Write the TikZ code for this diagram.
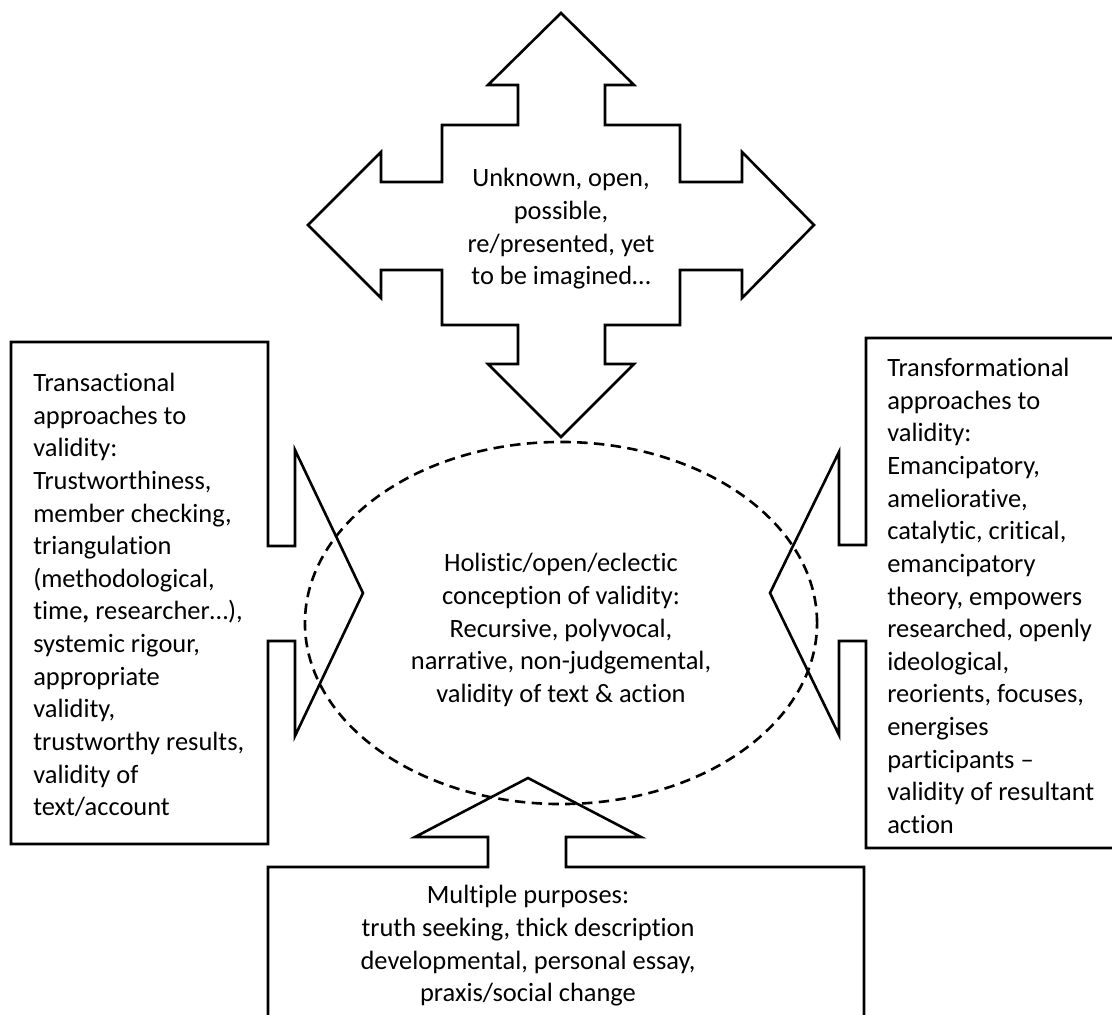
\documentclass[tikz,border=0pt]{standalone}
\usepackage{fontspec}
\setmainfont[Ligatures=NoCommon]{Carlito}
\usetikzlibrary{calc}
\tikzstyle{outline}=[line width=0.065cm, line join=miter]
\tikzstyle{boundary}=[dash pattern=on 0.26cm off 0.16cm, line width=0.065cm]
\tikzstyle{blurb}=[inner sep=0pt, font=\fontsize{18.8}{23.2}\selectfont]

\begin{document}
\begin{tikzpicture}[x=0.025cm,y=-0.025cm]
	\useasboundingbox (0,0) rectangle (1112,1014);
	\clip (0,0) rectangle (1112,1014);
	% four way arrow on top
	\draw[outline] (561,13) -- (634,85) -- (605,85) -- (605,125) -- (680,125) -- (680,182)
		-- (742,182) -- (742,152) -- (814,225) -- (742,298) -- (742,270) -- (680,270)
		-- (680,325) -- (605,325) -- (605,364) -- (634,364) -- (561,437) -- (488,364)
		-- (518,364) -- (518,325) -- (442,325) -- (442,270) -- (381,270) -- (381,298)
		-- (308,225) -- (381,152) -- (381,182) -- (442,182) -- (442,125) -- (518,125)
		-- (518,85) -- (488,85) -- cycle;
	\node[blurb, align=center] (unknown) at (561,229)
		{Unknown, open,\\possible,\\re/presented, yet\\to be imagined…};
	% left callout
	\draw[outline] (11,342) -- (268,342) -- (268,546) -- (295,546) -- (295,450) -- (363,593)
		-- (295,736) -- (295,641) -- (268,641) -- (268,844) -- (11,844) -- cycle;
	\node[blurb, align=left, anchor=west] (transactional) at (33,595)
		{Transactional\\approaches to\\validity:\\Trustworthiness,\\member checking,\\triangulation\\(methodological,\\time\textbf{,} researcher…),\\systemic rigour,\\appropriate\\validity,\\trustworthy results,\\validity of\\text/account};
	% right callout
	\draw[outline] (1130,338) -- (866,338) -- (866,545) -- (839,545) -- (839,452) -- (770,593)
		-- (839,735) -- (839,641) -- (866,641) -- (866,848) -- (1130,848);
	\node[blurb, align=left, anchor=west] (transformational) at (887,596)
		{Transformational\\approaches to\\validity:\\Emancipatory,\\ameliorative,\\catalytic, critical,\\emancipatory\\theory, empowers\\researched, openly\\ideological,\\reorients, focuses,\\energises\\participants –\\validity of resultant\\action};
	% bottom callout
	\draw[outline] (268,1030) -- (268,867) -- (488,867) -- (488,837) -- (415,837) -- (528,778)
		-- (641,837) -- (566,837) -- (566,867) -- (864,867) -- (864,1030);
	\node[blurb, align=center] (purposes) at (528,946)
		{Multiple purposes:\\truth seeking, thick description\\developmental, personal essay,\\praxis/social change};
	% dashed centre
	\draw[boundary] (561,623) ellipse [x radius=6.4cm, y radius=4.525cm];
	\node[blurb, align=center] (holistic) at (561,630)
		{Holistic/open/eclectic\\conception of validity:\\Recursive, polyvocal,\\narrative, non-judgemental,\\validity of text \& action};
\end{tikzpicture}
\end{document}
